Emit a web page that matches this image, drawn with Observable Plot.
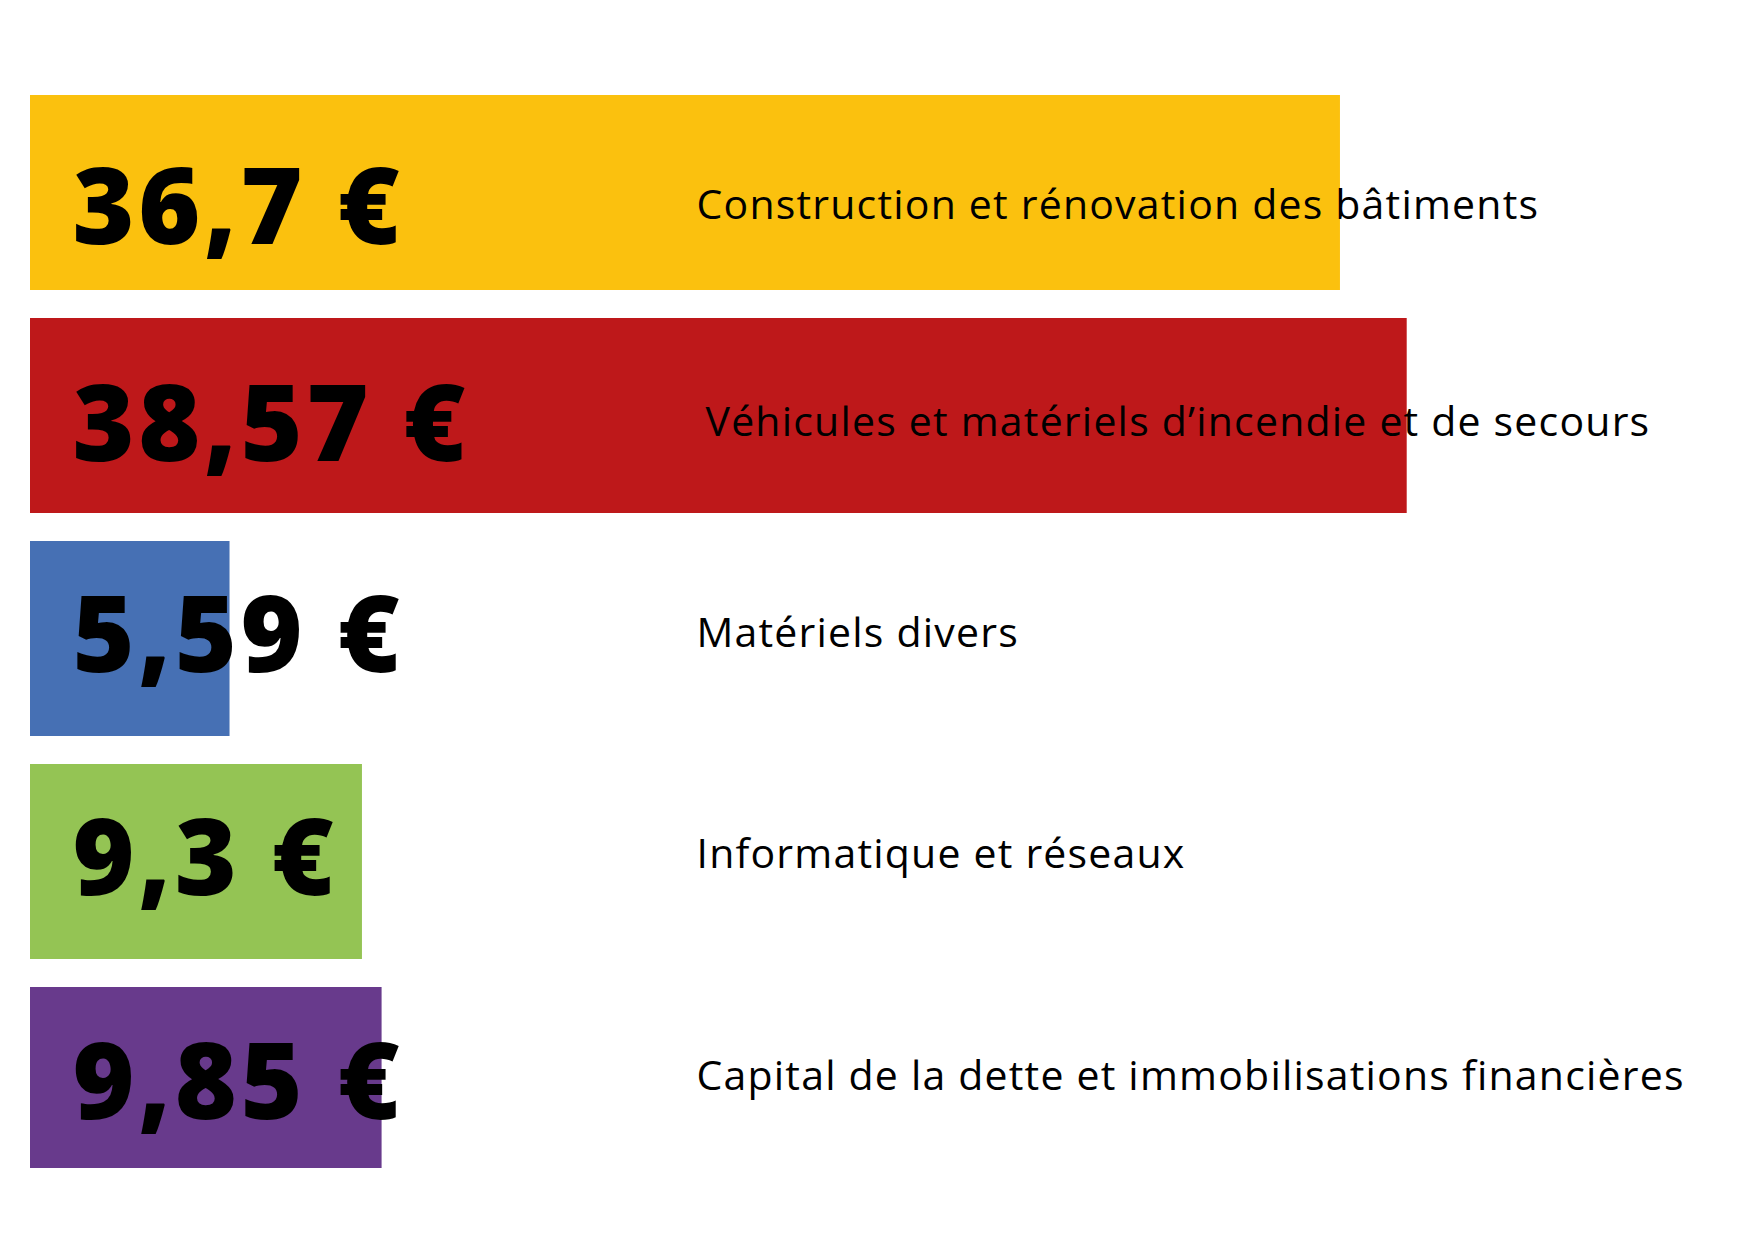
<!DOCTYPE html>
<html>
<head>
<meta charset="utf-8">
<script src="https://cdn.jsdelivr.net/npm/d3@7"></script>
<script src="https://cdn.jsdelivr.net/npm/@observablehq/plot@0.6"></script>
<style>
  html, body { margin: 0; padding: 0; background: #ffffff; }
  #chart svg { display: block; }
  #chart g[font-size="106"] { letter-spacing: 3.7px; }
  #chart g[font-size="41"] { letter-spacing: 1.2px; }
</style>
</head>
<body>
<div id="chart"></div>
<script>
// ---- data ----
const categories = [
  "Construction et rénovation des bâtiments",
  "Véhicules et matériels d’incendie et de secours",
  "Matériels divers",
  "Informatique et réseaux",
  "Capital de la dette et immobilisations financières"
];
const values = [36.7, 38.57, 5.59, 9.3, 9.85];
const colors = ["#FBC10E", "#BE181A", "#4670B4", "#94C454", "#683A8C"];

// ---- per-row label styling (offsets in px) ----
const valueDy = [51, 45, 33, 33, 34];
const labelDy = [26, 20, 8, 6, 5];
const labelDx = [0, 9, 0, 0, 0];
const barInsetBottom = [0, 0, 0, 0, 14];

const rows = categories.map((c, i) => ({category: c, value: values[i], i}));
const fmt = v => String(v).replace(".", ",") + " €";

const marks = [];
rows.forEach((r, i) => {
  marks.push(Plot.barX([r], {
    x: "value", y: "category", fill: "category",
    insetBottom: barInsetBottom[i]
  }));
});
rows.forEach((r, i) => {
  marks.push(Plot.text([r], {
    y: "category", text: d => fmt(d.value),
    frameAnchor: "left", textAnchor: "start", lineAnchor: "bottom",
    dx: 42, dy: valueDy[i],
    fontSize: 106, fontWeight: 800, fill: "#000",
    fontFamily: "'Open Sans', sans-serif"
  }));
  marks.push(Plot.text([r], {
    y: "category", text: "category",
    frameAnchor: "left", textAnchor: "start", lineAnchor: "bottom",
    dx: 666 + labelDx[i], dy: labelDy[i],
    fontSize: 41, fontWeight: 400, fill: "#000",
    fontFamily: "'Open Sans', sans-serif"
  }));
});

const chart = Plot.plot({
  width: 1754,
  height: 1240,
  marginLeft: 30,
  marginRight: 0,
  marginTop: 94,
  marginBottom: 58,
  style: {background: "#ffffff", overflow: "visible"},
  x: {domain: [0, 48.3], axis: null},
  y: {domain: categories, axis: null, paddingInner: 0.1256, paddingOuter: 0},
  color: {domain: categories, range: colors},
  marks
});
document.getElementById("chart").appendChild(chart);
</script>
</body>
</html>
